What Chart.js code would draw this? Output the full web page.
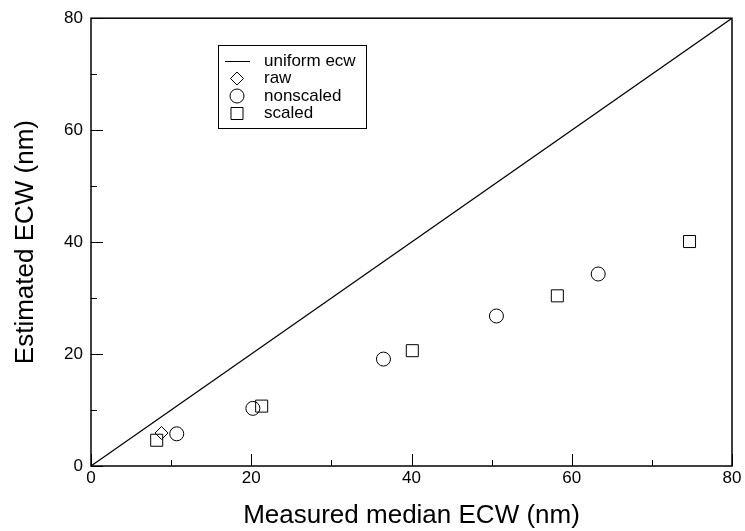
<!DOCTYPE html>
<html>
<head>
<meta charset="utf-8">
<script src="https://cdn.jsdelivr.net/npm/chart.js@4.4.1/dist/chart.umd.min.js"></script>
<style>
  html, body { margin: 0; padding: 0; background: #fff; }
  #wrap { width: 745px; height: 531px; }
</style>
</head>
<body>
<div id="wrap"><canvas id="chart" width="745" height="531"></canvas></div>
<script>
// ---- data ----
const lineX = [0, 80];
const lineY = [0, 80];
const rawX = [8.8];
const rawY = [5.9];
const nonscaledX = [10.7, 20.2, 36.5, 50.6, 63.3];
const nonscaledY = [5.75, 10.3, 19.1, 26.8, 34.3];
const scaledX = [8.2, 21.3, 40.1, 58.2, 74.7];
const scaledY = [4.6, 10.7, 20.6, 30.4, 40.1];
const majorTicks = [0, 20, 40, 60, 80];
const minorTicks = [10, 30, 50, 70];

const FONT = "'Liberation Sans', Arial, sans-serif";
const pts = (xs, ys) => xs.map((x, i) => ({ x, y: ys[i] }));

// frame + inward ticks (bottom / left only)
const framePlugin = {
  id: 'frame',
  afterDatasetsDraw(chart) {
    const { ctx, chartArea: a, scales: { x, y } } = chart;
    ctx.save();
    ctx.strokeStyle = '#000';
    ctx.lineWidth = 1.5;
    ctx.strokeRect(a.left, a.top, a.right - a.left, a.bottom - a.top);
    ctx.lineWidth = 1;
    ctx.beginPath();
    const tick = (v, len) => {
      const px = Math.round(x.getPixelForValue(v)) + 0.5;
      ctx.moveTo(px, a.bottom); ctx.lineTo(px, a.bottom - len);
      const py = Math.round(y.getPixelForValue(v)) + 0.5;
      ctx.moveTo(a.left, py); ctx.lineTo(a.left + len, py);
    };
    majorTicks.forEach(v => tick(v, 12));
    minorTicks.forEach(v => tick(v, 6));
    ctx.stroke();
    ctx.restore();
  }
};

// boxed legend inside the plot
const legendPlugin = {
  id: 'boxLegend',
  afterDraw(chart) {
    const { ctx } = chart;
    const box = { l: 218.5, t: 45.5, r: 366.5, b: 128.5 };
    const rows = [61, 78.5, 96, 113.5];
    ctx.save();
    ctx.fillStyle = '#fff';
    ctx.fillRect(box.l, box.t, box.r - box.l, box.b - box.t);
    ctx.strokeStyle = '#000';
    ctx.lineWidth = 1;
    ctx.strokeRect(box.l, box.t, box.r - box.l, box.b - box.t);
    chart.data.datasets.forEach((ds, i) => {
      const yy = rows[i];
      ctx.strokeStyle = '#000';
      ctx.fillStyle = 'rgba(0,0,0,0)';
      if (ds.showLine) {
        ctx.lineWidth = 1;
        ctx.beginPath();
        ctx.moveTo(225, yy + 0.5); ctx.lineTo(250, yy + 0.5);
        ctx.stroke();
      } else {
        Chart.helpers.drawPoint(ctx, { pointStyle: ds.pointStyle, radius: ds.pointRadius, borderWidth: 1, rotation: 0 }, 237, yy);
      }
      ctx.fillStyle = '#000';
      ctx.font = '17px ' + FONT;
      ctx.textBaseline = 'middle';
      ctx.textAlign = 'left';
      ctx.fillText(ds.label, 264, yy);
    });
    ctx.restore();
  }
};

const marker = { borderColor: '#000', backgroundColor: 'rgba(0,0,0,0)', borderWidth: 1, showLine: false };

new Chart(document.getElementById('chart'), {
  type: 'scatter',
  data: {
    datasets: [
      { label: 'uniform ecw', data: pts(lineX, lineY), showLine: true, borderColor: '#000', borderWidth: 1.2, pointRadius: 0 },
      { label: 'raw', data: pts(rawX, rawY), pointStyle: 'rectRot', pointRadius: 6.5, ...marker },
      { label: 'nonscaled', data: pts(nonscaledX, nonscaledY), pointStyle: 'circle', pointRadius: 7, ...marker },
      { label: 'scaled', data: pts(scaledX, scaledY), pointStyle: 'rect', pointRadius: 8.5, ...marker }
    ]
  },
  options: {
    responsive: false,
    animation: false,
    devicePixelRatio: 1,
    layout: { padding: { top: 14, right: 13, left: 0, bottom: 0 } },
    plugins: { legend: { display: false }, tooltip: { enabled: false } },
    scales: {
      x: {
        type: 'linear', min: 0, max: 80,
        afterBuildTicks: s => { s.ticks = majorTicks.map(v => ({ value: v })); },
        afterFit: s => { s.height = 65; },
        grid: { display: false, drawTicks: false },
        border: { display: false },
        ticks: { color: '#000', font: { family: FONT, size: 17 }, padding: 2, maxRotation: 0 },
        title: { display: true, text: 'Measured median ECW (nm)', color: '#000', font: { family: FONT, size: 26 }, padding: { top: 0, bottom: 0 } }
      },
      y: {
        type: 'linear', min: 0, max: 80,
        afterBuildTicks: s => { s.ticks = majorTicks.map(v => ({ value: v })); },
        afterFit: s => { s.width = 91; },
        grid: { display: false, drawTicks: false },
        border: { display: false },
        ticks: { color: '#000', font: { family: FONT, size: 17 }, padding: 8 },
        title: { display: true, text: 'Estimated ECW (nm)', color: '#000', font: { family: FONT, size: 26 }, padding: { top: 10, bottom: 0 } }
      }
    }
  },
  plugins: [framePlugin, legendPlugin]
});
</script>
</body>
</html>
